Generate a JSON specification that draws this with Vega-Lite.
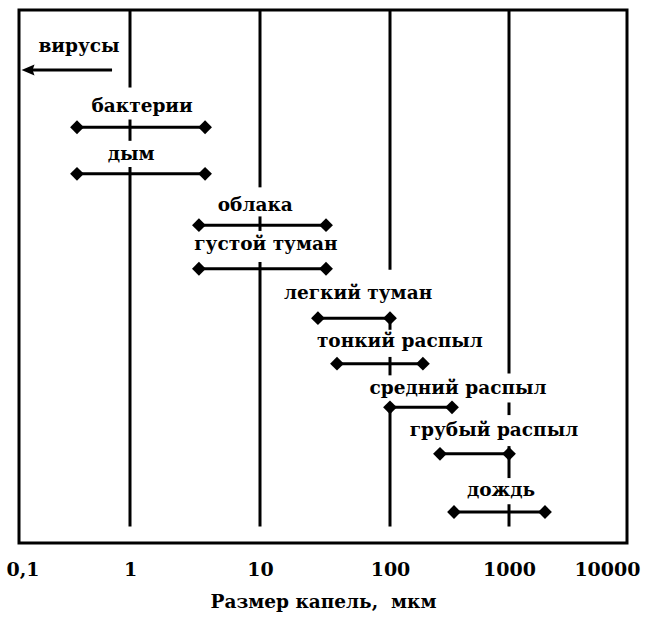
{
  "$schema": "https://vega.github.io/schema/vega-lite/v6.json",
  "autosize": {"type": "none"},
  "padding": {"left": 19, "top": 10, "right": 25, "bottom": 74},
  "width": 608,
  "height": 533,
  "background": "white",
  "config": {
    "view": {"stroke": "black", "strokeWidth": 3},
    "font": "DejaVu Serif"
  },
  "datasets": {
    "grid": [
      {"x": 1, "y": 0, "y2": 80},
      {"x": 1, "y": 113, "y2": 135},
      {"x": 1, "y": 162, "y2": 533},
      {"x": 10, "y": 0, "y2": 183},
      {"x": 10, "y": 213, "y2": 228},
      {"x": 10, "y": 260, "y2": 533},
      {"x": 100, "y": 0, "y2": 268},
      {"x": 100, "y": 318, "y2": 330},
      {"x": 100, "y": 358, "y2": 377},
      {"x": 100, "y": 410, "y2": 533},
      {"x": 1000, "y": 0, "y2": 375},
      {"x": 1000, "y": 405, "y2": 418},
      {"x": 1000, "y": 450, "y2": 483},
      {"x": 1000, "y": 510, "y2": 533}
    ],
    "bars": [
      {"name": "вирусы", "kind": "arrow", "x1": 0.1206, "x2": 0.689, "y": 62, "lx": 0.347, "ly": 43},
      {"name": "бактерии", "kind": "bar", "x1": 0.333, "x2": 3.78, "y": 121, "lx": 1.24, "ly": 105},
      {"name": "дым", "kind": "bar", "x1": 0.333, "x2": 3.78, "y": 169, "lx": 1.02, "ly": 155},
      {"name": "облака", "kind": "bar", "x1": 3.39, "x2": 32.2, "y": 222, "lx": 9.2, "ly": 207},
      {"name": "густой туман", "kind": "bar", "x1": 3.39, "x2": 32.2, "y": 267, "lx": 11.1, "ly": 248},
      {"name": "легкий туман", "kind": "bar", "x1": 27.9, "x2": 100, "y": 318, "lx": 56.8, "ly": 298},
      {"name": "тонкий распыл", "kind": "bar", "x1": 39.1, "x2": 189, "y": 365, "lx": 121, "ly": 348},
      {"name": "средний распыл", "kind": "bar", "x1": 100, "x2": 332, "y": 410, "lx": 373, "ly": 396},
      {"name": "грубый распыл", "kind": "bar", "x1": 263, "x2": 1000, "y": 458, "lx": 748, "ly": 440},
      {"name": "дождь", "kind": "bar", "x1": 345, "x2": 2018, "y": 518, "lx": 857, "ly": 502}
    ]
  },
  "layer": [
    {
      "data": {"name": "grid"},
      "mark": {"type": "rule", "strokeWidth": 3, "color": "black"},
      "encoding": {
        "x": {"field": "x", "type": "quantitative", "scale": {"type": "log", "domain": [0.1, 1, 10, 100, 1000, 10000], "range": [0, 111, 241, 371, 490, 608]},
          "axis": {"values": [0.1, 1, 10, 100, 1000, 10000], "labelExpr": "datum.value < 1 ? '0,1' : format(datum.value, 'd')", "grid": false, "ticks": false, "domain": false, "labelFont": "DejaVu Serif", "labelFontSize": 19, "labelFontWeight": "bold", "labelColor": "black", "labelPadding": 17, "labelFlush": true, "labelFlushOffset": 13, "title": "Размер капель,\u00a0\u00a0мкм", "titleFont": "DejaVu Serif", "titleFontSize": 18.5, "titleFontWeight": "bold", "titleColor": "black", "titlePadding": 13}},
        "y": {"field": "y", "type": "quantitative", "scale": {"domain": [0, 533], "reverse": true}, "axis": null},
        "y2": {"field": "y2"}
      }
    },
    {
      "data": {"name": "bars"},
      "mark": {"type": "rule", "strokeWidth": 3, "color": "black"},
      "encoding": {
        "x": {"field": "x1", "type": "quantitative"},
        "x2": {"field": "x2"},
        "y": {"field": "y", "type": "quantitative"}
      }
    },
    {
      "data": {"name": "bars"},
      "transform": [
        {"filter": "datum.kind == 'bar'"},
        {"fold": ["x1", "x2"], "as": ["end", "xv"]}
      ],
      "mark": {"type": "point", "shape": "diamond", "filled": true, "size": 190, "color": "black", "opacity": 1},
      "encoding": {
        "x": {"field": "xv", "type": "quantitative"},
        "y": {"field": "y", "type": "quantitative"}
      }
    },
    {
      "data": {"name": "bars"},
      "transform": [{"filter": "datum.kind == 'arrow'"}],
      "mark": {"type": "point", "shape": "M-1,0L1,-0.85L0.7,0L1,0.85Z", "filled": true, "size": 169, "color": "black", "opacity": 1},
      "encoding": {
        "x": {"field": "x1", "type": "quantitative"},
        "y": {"field": "y", "type": "quantitative"}
      }
    },
    {
      "data": {"name": "bars"},
      "mark": {"type": "text", "font": "DejaVu Serif", "fontSize": 18.5, "fontWeight": "bold", "color": "black", "align": "center", "baseline": "alphabetic"},
      "encoding": {
        "x": {"field": "lx", "type": "quantitative"},
        "y": {"field": "ly", "type": "quantitative"},
        "text": {"field": "name"}
      }
    }
  ]
}
